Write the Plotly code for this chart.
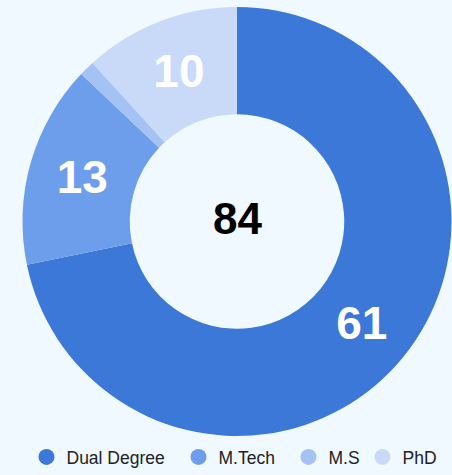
"""Donut chart of students by degree programme."""

import plotly.graph_objects as go

DEGREES = ["Dual Degree", "M.Tech", "M.S", "PhD"]
COUNTS = [61, 13, 1, 10]
SHOW_LABEL = [True, True, False, True]
CENTER_LABEL = "84"

COLORS = ["#3c78d8", "#6d9eeb", "#a4c2f4", "#c9daf8"]
LEGEND_WIDTHS = [107, 65, 29, 40]
BACKGROUND = "#f0f9ff"
FONT = "Liberation Sans, Arial, sans-serif"

figure = go.Figure()
figure.add_trace(
    go.Pie(
        labels=DEGREES,
        values=COUNTS,
        hole=0.5,
        sort=False,
        direction="clockwise",
        rotation=0,
        marker={"colors": COLORS, "line": {"width": 0}},
        texttemplate=["%{value}" if show else "" for show in SHOW_LABEL],
        textposition="inside",
        insidetextorientation="horizontal",
        textfont={"family": FONT, "size": 46, "color": "white", "weight": "bold"},
        showlegend=False,
        hoverinfo="label+value",
    )
)

# legend entries with round markers
for name, color, width in zip(DEGREES, COLORS, LEGEND_WIDTHS):
    figure.add_trace(
        go.Scatter(
            x=[None],
            y=[None],
            mode="markers",
            name=name,
            legendwidth=width,
            marker={"color": color, "size": 16, "symbol": "circle"},
        )
    )

figure.add_annotation(
    text=CENTER_LABEL,
    x=0.5,
    y=0.5,
    xref="paper",
    yref="paper",
    yshift=3,
    showarrow=False,
    font={"family": FONT, "size": 44, "color": "black", "weight": "bold"},
)

figure.update_layout(
    width=452,
    height=475,
    margin={"l": 22, "r": 0, "t": 7, "b": 38},
    paper_bgcolor=BACKGROUND,
    plot_bgcolor=BACKGROUND,
    xaxis={"visible": False},
    yaxis={"visible": False},
    legend={
        "orientation": "h",
        "x": 0.5,
        "xanchor": "center",
        "y": -0.008,
        "yanchor": "top",
        "font": {"family": FONT, "size": 17.5, "color": "#222222"},
        "bgcolor": "rgba(0,0,0,0)",
    },
)

figure.write_html(
    "out.html",
    config={"displayModeBar": False},
    post_script="document.body.style.margin = '0';",
)
